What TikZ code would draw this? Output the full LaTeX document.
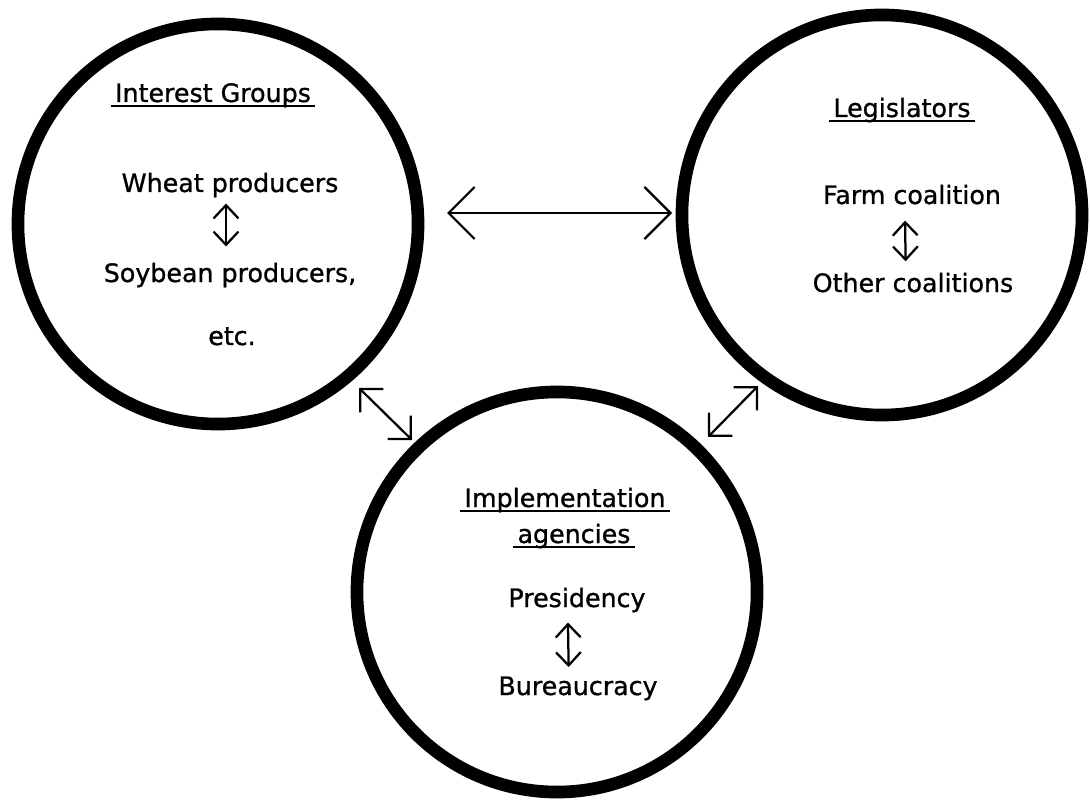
\documentclass[tikz,border=0pt]{standalone}
\usepackage{fontspec}
\setmainfont{DejaVu Sans}[FakeBold=1]
\usetikzlibrary{arrows.meta,calc}
\begin{document}
\begin{tikzpicture}[x=0.025cm,y=-0.025cm,
  every node/.style={font=\fontsize{18}{22}\selectfont,inner sep=0pt},
  ring/.style={circle,draw,line width=9pt,minimum size=10cm},
  lbl/.style={anchor=base},
  ul/.style={line width=1.7pt},
  big/.style={{Straight Barb[length=0.65cm,width=1.3cm]}-{Straight Barb[length=0.65cm,width=1.3cm]},line width=1.6pt},
  dg/.style={{Straight Barb[length=0.41cm,width=0.82cm]}-{Straight Barb[length=0.41cm,width=0.82cm]},line width=1.6pt},
  sm/.style={{Straight Barb[length=0.33cm,width=0.62cm]}-{Straight Barb[length=0.33cm,width=0.62cm]},line width=1.6pt}]
  \useasboundingbox (0,0) rectangle (1090,800);
  \node[ring] (ig) at (218,224) {};
  \node[ring] (lg) at (882,215) {};
  \node[ring] (ia) at (557,592) {};
  \node[lbl] (igt) at (213,102) {Interest Groups};
  \node[lbl] (wp) at (230,192) {Wheat producers};
  \node[lbl] (sp) at (230,282) {Soybean producers,};
  \node[lbl] (etc) at (232,345) {etc.};
  \node[lbl] (lgt) at (902,117) {Legislators};
  \node[lbl] (fc) at (912,204) {Farm coalition};
  \node[lbl] (oc) at (913,292) {Other coalitions};
  \node[lbl] (iat) at (565,507) {Implementation};
  \node[lbl] (iab) at (574,543) {agencies};
  \node[lbl] (pr) at (577,607) {Presidency};
  \node[lbl] (bu) at (578,695) {Bureaucracy};
  \foreach \n in {igt,lgt,iat,iab}
    \draw[ul] ($(\n.base west)+(-4,4)$) -- ($(\n.base east)+(4,4)$);
  \coordinate (h1) at (447,213); \coordinate (h2) at (672,213);
  \coordinate (d1) at (359,388); \coordinate (d2) at (412,440);
  \coordinate (d3) at (758,386); \coordinate (d4) at (708,437);
  \draw[big] (h1) -- (h2);
  \draw[dg] (d1) -- (d2);
  \draw[dg] (d3) -- (d4);
  \draw[sm,shorten <=0.15cm,shorten >=0.4cm] ([xshift=-0.1cm]wp.south) -- ([xshift=-0.1cm]sp.north);
  \draw[sm,shorten <=0.4cm,shorten >=0.28cm] ([xshift=-0.18cm]fc.south) -- ([xshift=-0.18cm]oc.north);
  \draw[sm,shorten <=0.25cm,shorten >=0.23cm] ([xshift=-0.23cm]pr.south) -- ([xshift=-0.23cm]bu.north);
\end{tikzpicture}
\end{document}
